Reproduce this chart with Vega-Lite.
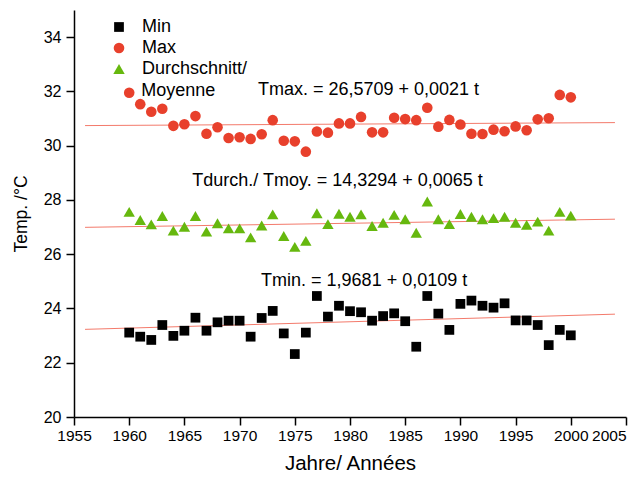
{
  "$schema": "https://vega.github.io/schema/vega-lite/v6.json",
  "width": 552,
  "height": 407,
  "autosize": {"type": "none"},
  "padding": {"left": 74, "top": 10, "right": 16, "bottom": 66},
  "background": "white",
  "config": {
    "view": {"stroke": null},
    "font": "Liberation Sans",
    "axis": {"grid": false, "domainColor": "black", "domainWidth": 1.5, "tickColor": "black", "tickWidth": 1.5, "labelColor": "black", "titleColor": "black", "labelFont": "Liberation Sans", "titleFont": "Liberation Sans", "titleFontWeight": "normal"},
    "legend": {"orient": "none", "legendX": 36, "legendY": 8, "title": null, "labelFontSize": 18, "labelFont": "Liberation Sans", "labelColor": "black", "labelOffset": 14, "rowPadding": 3, "padding": 0}
  },
  "datasets": {
    "obs": [
      {"year": 1960, "Min": 23.11, "Max": 31.95, "Durchschnitt/ Moyenne": 27.56},
      {"year": 1961, "Min": 22.96, "Max": 31.53, "Durchschnitt/ Moyenne": 27.26},
      {"year": 1962, "Min": 22.84, "Max": 31.25, "Durchschnitt/ Moyenne": 27.10},
      {"year": 1963, "Min": 23.39, "Max": 31.36, "Durchschnitt/ Moyenne": 27.41},
      {"year": 1964, "Min": 22.99, "Max": 30.73, "Durchschnitt/ Moyenne": 26.87},
      {"year": 1965, "Min": 23.18, "Max": 30.79, "Durchschnitt/ Moyenne": 27.01},
      {"year": 1966, "Min": 23.66, "Max": 31.09, "Durchschnitt/ Moyenne": 27.41},
      {"year": 1967, "Min": 23.18, "Max": 30.44, "Durchschnitt/ Moyenne": 26.83},
      {"year": 1968, "Min": 23.49, "Max": 30.68, "Durchschnitt/ Moyenne": 27.14},
      {"year": 1969, "Min": 23.55, "Max": 30.28, "Durchschnitt/ Moyenne": 26.95},
      {"year": 1970, "Min": 23.55, "Max": 30.31, "Durchschnitt/ Moyenne": 26.95},
      {"year": 1971, "Min": 22.96, "Max": 30.25, "Durchschnitt/ Moyenne": 26.62},
      {"year": 1972, "Min": 23.65, "Max": 30.42, "Durchschnitt/ Moyenne": 27.06},
      {"year": 1973, "Min": 23.91, "Max": 30.94, "Durchschnitt/ Moyenne": 27.47},
      {"year": 1974, "Min": 23.08, "Max": 30.18, "Durchschnitt/ Moyenne": 26.67},
      {"year": 1975, "Min": 22.32, "Max": 30.16, "Durchschnitt/ Moyenne": 26.27},
      {"year": 1976, "Min": 23.11, "Max": 29.78, "Durchschnitt/ Moyenne": 26.49},
      {"year": 1977, "Min": 24.46, "Max": 30.52, "Durchschnitt/ Moyenne": 27.51},
      {"year": 1978, "Min": 23.70, "Max": 30.48, "Durchschnitt/ Moyenne": 27.11},
      {"year": 1979, "Min": 24.10, "Max": 30.82, "Durchschnitt/ Moyenne": 27.49},
      {"year": 1980, "Min": 23.90, "Max": 30.82, "Durchschnitt/ Moyenne": 27.38},
      {"year": 1981, "Min": 23.86, "Max": 31.06, "Durchschnitt/ Moyenne": 27.47},
      {"year": 1982, "Min": 23.55, "Max": 30.49, "Durchschnitt/ Moyenne": 27.04},
      {"year": 1983, "Min": 23.72, "Max": 30.49, "Durchschnitt/ Moyenne": 27.16},
      {"year": 1984, "Min": 23.82, "Max": 31.03, "Durchschnitt/ Moyenne": 27.45},
      {"year": 1985, "Min": 23.53, "Max": 30.98, "Durchschnitt/ Moyenne": 27.29},
      {"year": 1986, "Min": 22.59, "Max": 30.94, "Durchschnitt/ Moyenne": 26.79},
      {"year": 1987, "Min": 24.46, "Max": 31.40, "Durchschnitt/ Moyenne": 27.94},
      {"year": 1988, "Min": 23.81, "Max": 30.70, "Durchschnitt/ Moyenne": 27.29},
      {"year": 1989, "Min": 23.21, "Max": 30.95, "Durchschnitt/ Moyenne": 27.11},
      {"year": 1990, "Min": 24.17, "Max": 30.78, "Durchschnitt/ Moyenne": 27.48},
      {"year": 1991, "Min": 24.29, "Max": 30.44, "Durchschnitt/ Moyenne": 27.38},
      {"year": 1992, "Min": 24.10, "Max": 30.43, "Durchschnitt/ Moyenne": 27.29},
      {"year": 1993, "Min": 24.03, "Max": 30.59, "Durchschnitt/ Moyenne": 27.33},
      {"year": 1994, "Min": 24.19, "Max": 30.53, "Durchschnitt/ Moyenne": 27.38},
      {"year": 1995, "Min": 23.56, "Max": 30.71, "Durchschnitt/ Moyenne": 27.16},
      {"year": 1996, "Min": 23.56, "Max": 30.57, "Durchschnitt/ Moyenne": 27.08},
      {"year": 1997, "Min": 23.39, "Max": 30.97, "Durchschnitt/ Moyenne": 27.20},
      {"year": 1998, "Min": 22.65, "Max": 31.01, "Durchschnitt/ Moyenne": 26.87},
      {"year": 1999, "Min": 23.21, "Max": 31.87, "Durchschnitt/ Moyenne": 27.56},
      {"year": 2000, "Min": 23.01, "Max": 31.78, "Durchschnitt/ Moyenne": 27.42}
    ],
    "trend": [
      {"series": "Max", "year": 1956, "value": 30.74},
      {"series": "Max", "year": 2004, "value": 30.85},
      {"series": "Durchschnitt/ Moyenne", "year": 1956, "value": 26.99},
      {"series": "Durchschnitt/ Moyenne", "year": 2004, "value": 27.29},
      {"series": "Min", "year": 1956, "value": 23.23},
      {"series": "Min", "year": 2004, "value": 23.79}
    ],
    "notes": [
      {"year": 1981.68, "value": 32.07, "text": "Tmax. = 26,5709 + 0,0021 t"},
      {"year": 1978.87, "value": 28.69, "text": "Tdurch./ Tmoy. = 14,3294 + 0,0065 t"},
      {"year": 1981.28, "value": 25.02, "text": "Tmin. = 1,9681 + 0,0109 t"},
      {"year": 1964.44, "value": 32.02, "text": "Moyenne"}
    ]
  },
  "layer": [
    {
      "data": {"name": "trend"},
      "mark": {"type": "line", "color": "#f26b5b", "strokeWidth": 1, "opacity": 0.9},
      "encoding": {
        "x": {"field": "year", "type": "quantitative"},
        "y": {"field": "value", "type": "quantitative"},
        "detail": {"field": "series"}
      }
    },
    {
      "data": {"name": "obs"},
      "transform": [{"fold": ["Min", "Max", "Durchschnitt/ Moyenne"], "as": ["series", "value"]}],
      "mark": {"type": "point", "filled": true, "opacity": 1},
      "encoding": {
        "x": {
          "field": "year", "type": "quantitative",
          "scale": {"domain": [1955, 2005], "nice": false, "zero": false},
          "axis": {
            "values": [1955, 1960, 1965, 1970, 1975, 1980, 1985, 1990, 1995, 2000, 2005],
            "format": "d", "title": "Jahre/ Années", "titleFontSize": 20.5, "labelFontSize": 15.5, "tickSize": 8, "labelPadding": 3, "titlePadding": 10, "labelOverlap": false, "labelFlush": false,
            "labelAlign": {"condition": {"test": "datum.value == 2005", "value": "right"}, "value": "center"}
          }
        },
        "y": {
          "field": "value", "type": "quantitative",
          "scale": {"domain": [20, 35], "nice": false, "zero": false},
          "axis": {
            "values": [20, 21, 22, 23, 24, 25, 26, 27, 28, 29, 30, 31, 32, 33, 34, 35],
            "labelExpr": "datum.value % 2 === 0 && datum.value < 35 ? datum.label : ''",
            "tickSize": {"condition": {"test": "datum.value % 2 === 0", "value": 8}, "value": 5},
            "title": "Temp. /°C", "titleFontSize": 17.5, "labelFontSize": 16, "labelPadding": 5, "titlePadding": 13, "labelOverlap": false, "labelFlush": false
          }
        },
        "color": {
          "field": "series", "type": "nominal",
          "scale": {"domain": ["Min", "Max", "Durchschnitt/ Moyenne"], "range": ["#000000", "#e8402c", "#66b80e"]},
          "legend": {"labelExpr": "datum.label == 'Durchschnitt/ Moyenne' ? 'Durchschnitt/' : datum.label"}
        },
        "shape": {
          "field": "series", "type": "nominal",
          "scale": {"domain": ["Min", "Max", "Durchschnitt/ Moyenne"], "range": ["square", "circle", "triangle-up"]},
          "legend": {"labelExpr": "datum.label == 'Durchschnitt/ Moyenne' ? 'Durchschnitt/' : datum.label"}
        },
        "size": {
          "field": "series", "type": "nominal",
          "scale": {"domain": ["Min", "Max", "Durchschnitt/ Moyenne"], "range": [95, 130, 200]},
          "legend": {"labelExpr": "datum.label == 'Durchschnitt/ Moyenne' ? 'Durchschnitt/' : datum.label"}
        }
      }
    },
    {
      "data": {"name": "notes"},
      "mark": {"type": "text", "fontSize": 18, "font": "Liberation Sans", "color": "black", "align": "center", "baseline": "middle"},
      "encoding": {
        "x": {"field": "year", "type": "quantitative"},
        "y": {"field": "value", "type": "quantitative"},
        "text": {"field": "text"}
      }
    }
  ]
}
